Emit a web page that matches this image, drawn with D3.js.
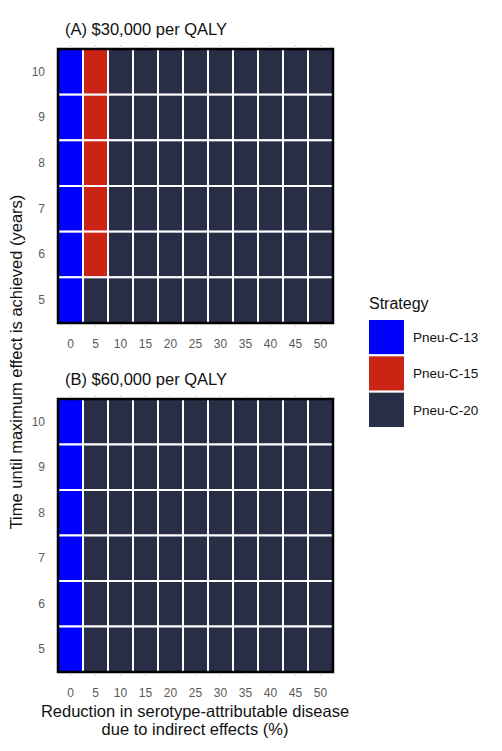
<!DOCTYPE html>
<html>
<head>
<meta charset="utf-8">
<script src="https://cdn.jsdelivr.net/npm/d3@7"></script>
<style>
  body { margin: 0; background: #fff; }
  svg { font-family: "Liberation Sans", Arial, sans-serif; }
</style>
</head>
<body>
<svg id="chart" width="502" height="751"></svg>
<script>
const reductions = [0, 5, 10, 15, 20, 25, 30, 35, 40, 45, 50];
const years = [10, 9, 8, 7, 6, 5];
const strategies = ["Pneu-C-13", "Pneu-C-15", "Pneu-C-20"];
const strategyColors = ["#0000ff", "#cc2414", "#272e45"];

// optimal strategy index per cell, rows follow `years`, columns follow `reductions`
const panelA = [
  [0, 1, 2, 2, 2, 2, 2, 2, 2, 2, 2],
  [0, 1, 2, 2, 2, 2, 2, 2, 2, 2, 2],
  [0, 1, 2, 2, 2, 2, 2, 2, 2, 2, 2],
  [0, 1, 2, 2, 2, 2, 2, 2, 2, 2, 2],
  [0, 1, 2, 2, 2, 2, 2, 2, 2, 2, 2],
  [0, 2, 2, 2, 2, 2, 2, 2, 2, 2, 2]
];
const panelB = [
  [0, 2, 2, 2, 2, 2, 2, 2, 2, 2, 2],
  [0, 2, 2, 2, 2, 2, 2, 2, 2, 2, 2],
  [0, 2, 2, 2, 2, 2, 2, 2, 2, 2, 2],
  [0, 2, 2, 2, 2, 2, 2, 2, 2, 2, 2],
  [0, 2, 2, 2, 2, 2, 2, 2, 2, 2, 2],
  [0, 2, 2, 2, 2, 2, 2, 2, 2, 2, 2]
];
const panelTitles = ["(A) $30,000 per QALY", "(B) $60,000 per QALY"];

const svg = d3.select("#chart");
const color = d3.scaleOrdinal().domain(strategies).range(strategyColors);

const x = d3.scaleBand().domain(reductions).range([58, 333]);

const panels = [
  { grid: panelA, title: panelTitles[0], top: 49, bottom: 323 },
  { grid: panelB, title: panelTitles[1], top: 399, bottom: 672 }
];

const tickFont = (a) =>
  a.selectAll("text")
    .attr("fill", "#5a5a5a")
    .attr("font-size", 12)
    .attr("font-family", "Liberation Sans, Arial, sans-serif");

panels.forEach((p) => {
  const y = d3.scaleBand().domain(years).range([p.top, p.bottom]);
  const g = svg.append("g");

  const cells = [];
  p.grid.forEach((row, i) => {
    row.forEach((s, j) => {
      cells.push({ year: years[i], red: reductions[j], strategy: strategies[s] });
    });
  });

  g.selectAll("rect.tile")
    .data(cells)
    .join("rect")
    .attr("class", "tile")
    .attr("x", (d) => x(d.red))
    .attr("y", (d) => y(d.year))
    .attr("width", x.bandwidth())
    .attr("height", y.bandwidth())
    .attr("fill", (d) => color(d.strategy))
    .attr("stroke", "#fff")
    .attr("stroke-width", 2);

  // panel border
  g.append("rect")
    .attr("x", 58)
    .attr("y", p.top)
    .attr("width", 275)
    .attr("height", p.bottom - p.top)
    .attr("fill", "none")
    .attr("stroke", "#000")
    .attr("stroke-width", 2.5);

  // faint ticks above and below
  g.append("g")
    .attr("transform", `translate(0,${p.top - 1})`)
    .call(d3.axisTop(x).tickSize(3).tickFormat(""))
    .call((a) => a.select(".domain").remove())
    .call((a) => a.selectAll("line").attr("stroke", "#d9d9d9"));

  g.append("g")
    .attr("transform", `translate(0,${p.bottom + 1})`)
    .call(d3.axisBottom(x).tickSize(3).tickPadding(12))
    .call((a) => a.select(".domain").remove())
    .call((a) => a.selectAll("line").attr("stroke", "#d9d9d9"))
    .call(tickFont);

  g.append("g")
    .attr("transform", "translate(58,0)")
    .call(d3.axisLeft(y).tickSize(0).tickPadding(13))
    .call((a) => a.select(".domain").remove())
    .call(tickFont);

  g.append("text")
    .attr("x", 65)
    .attr("y", p.top - 14)
    .attr("font-size", 16.5)
    .attr("fill", "#111")
    .text(p.title);
});

// axis titles
svg.append("text")
  .attr("transform", "translate(22,362) rotate(-90)")
  .attr("text-anchor", "middle")
  .attr("font-size", 16.5)
  .attr("fill", "#111")
  .text("Time until maximum effect is achieved (years)");

svg.append("text")
  .attr("x", 195)
  .attr("y", 717)
  .attr("text-anchor", "middle")
  .attr("font-size", 16.5)
  .attr("fill", "#111")
  .text("Reduction in serotype-attributable disease");

svg.append("text")
  .attr("x", 195)
  .attr("y", 735)
  .attr("text-anchor", "middle")
  .attr("font-size", 16.5)
  .attr("fill", "#111")
  .text("due to indirect effects (%)");

// legend
const legend = svg.append("g").attr("transform", "translate(368,0)");
legend.append("text")
  .attr("x", 1)
  .attr("y", 309)
  .attr("font-size", 16)
  .attr("fill", "#111")
  .text("Strategy");

const keyY = d3.scaleBand().domain(strategies).range([319, 428]);
legend.selectAll("rect.key")
  .data(strategies)
  .join("rect")
  .attr("class", "key")
  .attr("x", 0)
  .attr("y", (d) => keyY(d))
  .attr("width", 37)
  .attr("height", keyY.bandwidth())
  .attr("fill", (d) => color(d))
  .attr("stroke", "#fff")
  .attr("stroke-width", 2);

legend.selectAll("text.lab")
  .data(strategies)
  .join("text")
  .attr("class", "lab")
  .attr("x", 45)
  .attr("y", (d) => keyY(d) + keyY.bandwidth() / 2)
  .attr("dy", "0.35em")
  .attr("font-size", 13.5)
  .attr("fill", "#111")
  .text((d) => d);
</script>
</body>
</html>
